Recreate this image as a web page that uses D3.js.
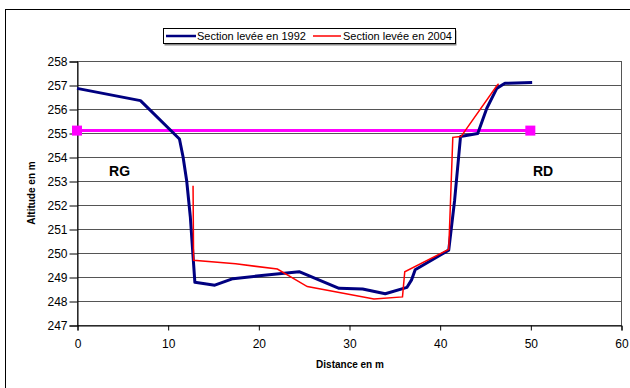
<!DOCTYPE html>
<html><head><meta charset="utf-8">
<script src="https://cdn.jsdelivr.net/npm/d3@7"></script>
<style>body{margin:0;background:#fff;} svg{display:block;font-family:Arial,"Liberation Sans",sans-serif;}</style>
</head><body>
<svg id="c" width="630" height="388"></svg>
<script>
const xTicks = [0,10,20,30,40,50,60];
const yTicks = [247,248,249,250,251,252,253,254,255,256,257,258];
const seriesNames = ["Section levée en 1992","Section levée en 2004"];
const dist1992 = [0,7,11.3,11.7,12.1,12.5,13.0,15.2,17.2,20.1,24.5,28.9,31.5,34.0,36.4,36.9,37.3,41.0,41.65,42.3,44.2,45.2,46.3,47.2,50.2];
const alt1992  = [256.86,256.35,254.75,254.0,253.0,251.5,248.78,248.66,248.93,249.05,249.22,248.53,248.5,248.3,248.57,248.88,249.3,250.12,252.2,254.85,254.98,256.03,256.86,257.07,257.1];
const dist2004 = [12.8,12.86,17.5,22.1,25.4,32.75,35.9,36.15,41.0,41.2,41.45,42.35,46.3,46.5];
const alt2004  = [252.8,249.7,249.55,249.33,248.6,248.08,248.17,249.22,250.15,252.2,254.82,254.85,256.97,257.05];
const levelX = [0,50];
const levelY = [255.1,255.1];
const bankLabels = ["RG","RD"];
const bankX = [4.7,51.4];
const bankY = [253.4,253.4];

const svg = d3.select("#c");
const L=77, T=61, R=621, B=325;
const x = d3.scaleLinear().domain([0,60]).range([L,R]);
const y = d3.scaleLinear().domain([247,258]).range([B,T]);

// outer chart border
svg.append("rect").attr("x",5.5).attr("y",9.5).attr("width",640).attr("height",400)
  .attr("fill","none").attr("stroke","#000").attr("stroke-width",1);

// gridlines
svg.append("g").selectAll("line").data(yTicks).join("line")
  .attr("x1",L).attr("x2",R).attr("y1",d=>Math.round(y(d))+0.5).attr("y2",d=>Math.round(y(d))+0.5)
  .attr("stroke","#555").attr("stroke-width",1);
// plot border
svg.append("rect").attr("x",L+0.5).attr("y",T+0.5).attr("width",R-L).attr("height",B-T)
  .attr("fill","none").attr("stroke","#555");

// axes
const ya = svg.append("g").attr("transform",`translate(${L+0.5},0.5)`)
  .call(d3.axisLeft(y).tickValues(yTicks).tickSize(8).tickPadding(2).tickFormat(d3.format("d")));
const xa = svg.append("g").attr("transform",`translate(0.5,${B+0.5})`)
  .call(d3.axisBottom(x).tickValues(xTicks).tickSize(5).tickPadding(9).tickFormat(d3.format("d")));
[ya,xa].forEach(a=>{
  a.selectAll("text").attr("font-size",12).attr("font-family","Arial,'Liberation Sans',sans-serif").attr("fill","#000");
  a.selectAll("line").attr("stroke","#000");
  a.select(".domain").attr("stroke","#000");
});
ya.selectAll("text").attr("dy","0.35em");

// axis titles
svg.append("text").attr("x",350).attr("y",368).attr("text-anchor","middle")
  .attr("font-size",10).attr("font-weight","bold").text("Distance en m");
svg.append("text").attr("transform","translate(35,193) rotate(-90)").attr("text-anchor","middle")
  .attr("font-size",10).attr("font-weight","bold").text("Altitude en m");

// magenta water level
const line = d3.line().x(d=>x(d[0])).y(d=>y(d[1]));
const lvl = levelX.map((d,i)=>[d,levelY[i]]);
svg.append("path").attr("d",line(lvl)).attr("fill","none").attr("stroke","#FF00FF").attr("stroke-width",3);
svg.append("g").selectAll("rect").data(lvl).join("rect")
  .attr("x",d=>x(d[0])-5).attr("y",d=>y(d[1])-5).attr("width",10).attr("height",10).attr("fill","#FF00FF");

// series
const s1992 = dist1992.map((d,i)=>[d,alt1992[i]]);
const s2004 = dist2004.map((d,i)=>[d,alt2004[i]]);
svg.append("path").attr("d",line(s1992)).attr("fill","none").attr("stroke","#000080").attr("stroke-width",3).attr("stroke-linejoin","round");
svg.append("path").attr("d",line(s2004)).attr("fill","none").attr("stroke","#FF0000").attr("stroke-width",1.5);

// bank labels
svg.append("g").selectAll("text").data(bankLabels).join("text")
  .attr("x",(d,i)=>x(bankX[i])).attr("y",(d,i)=>y(bankY[i])).attr("dy","0.35em").attr("text-anchor","middle")
  .attr("font-size",14).attr("font-weight","bold").text(d=>d);

// legend
const lg = svg.append("g");
lg.append("rect").attr("x",164.5).attr("y",30.5).attr("width",292).attr("height",15).attr("fill","#888");
lg.append("rect").attr("x",163.5).attr("y",28.5).attr("width",292).attr("height",15).attr("fill","#fff").attr("stroke","#000");
const legItems = [{c:"#000080",w:2.5,x1:166,x2:196,tx:197},{c:"#FF0000",w:1.5,x1:313,x2:341,tx:343}];
legItems.forEach((it,i)=>{
  lg.append("line").attr("x1",it.x1).attr("x2",it.x2).attr("y1",36).attr("y2",36).attr("stroke",it.c).attr("stroke-width",it.w);
  lg.append("text").attr("x",it.tx).attr("y",36).attr("dy","0.35em").attr("font-size",11).text(seriesNames[i]);
});
</script>
</body></html>
